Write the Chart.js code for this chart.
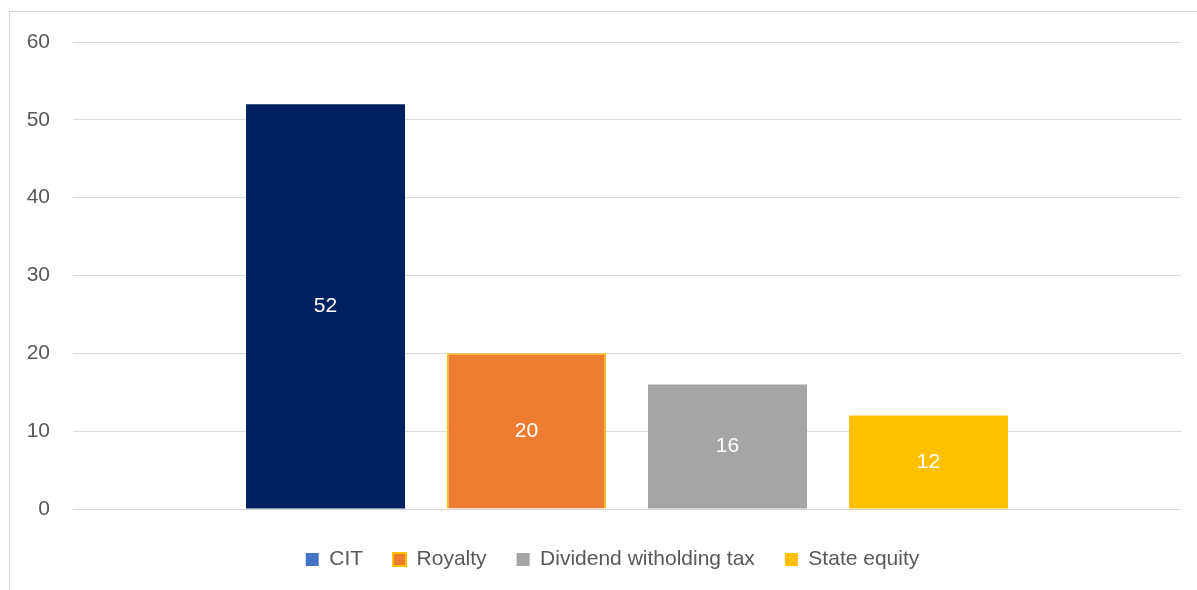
<!DOCTYPE html>
<html>
<head>
<meta charset="utf-8">
<script src="https://cdn.jsdelivr.net/npm/chart.js@4/dist/chart.umd.min.js"></script>
<style>
  html, body { margin: 0; padding: 0; background: #fff; overflow: hidden; }
  #wrap { position: relative; width: 1197px; height: 590px; }
  #frame { position: absolute; left: 9px; top: 11px; width: 1300px; height: 700px;
           border-left: 1px solid #d9d9d9; border-top: 1px solid #d9d9d9; pointer-events: none; }
  canvas { position: absolute; left: 0; top: 0; }
</style>
</head>
<body>
<div id="wrap">
  <canvas id="c" width="1197" height="590"></canvas>
  <div id="frame"></div>
</div>
<script>
const categories = [''];
const seriesNames = ['CIT', 'Royalty', 'Dividend witholding tax', 'State equity'];
const seriesValues = [[52], [20], [16], [12]];
const barColors = ['#002060', '#ED7D31', '#A5A5A5', '#FFC000'];
const borderColors = ['#002060', '#FFC000', '#A5A5A5', '#FFC000'];
const borderWidths = [0, 1.5, 0, 0];
const legendColors = ['#4472C4', '#ED7D31', '#A5A5A5', '#FFC000'];
const yTicks = [0, 10, 20, 30, 40, 50, 60];

const FONT = "'Liberation Sans', Arial, sans-serif";
const TEXT = '#595959';

const datasets = seriesNames.map((name, i) => ({
  label: name,
  data: seriesValues[i],
  backgroundColor: barColors[i],
  borderColor: borderColors[i],
  borderWidth: borderWidths[i],
  categoryPercentage: 0.7256,
  barPercentage: 0.791
}));

const valueLabels = {
  id: 'valueLabels',
  beforeDraw(chart) {
    // shift the legend box to centre it like the reference
    if (chart.legend) { chart.legend.left = 44; }
  },
  afterDatasetsDraw(chart) {
    const ctx = chart.ctx;
    ctx.save();
    ctx.fillStyle = '#ffffff';
    ctx.font = '21px ' + FONT;
    ctx.textAlign = 'center';
    ctx.textBaseline = 'middle';
    chart.data.datasets.forEach((ds, di) => {
      const meta = chart.getDatasetMeta(di);
      meta.data.forEach((bar, j) => {
        const cy = (bar.y + bar.base) / 2;
        ctx.fillText(String(ds.data[j]), bar.x, cy);
      });
    });
    ctx.restore();
  }
};

new Chart(document.getElementById('c'), {
  type: 'bar',
  data: { labels: categories, datasets },
  options: {
    responsive: false,
    animation: false,
    layout: { padding: { left: 0, right: 16, top: 42, bottom: 10 } },
    scales: {
      x: {
        display: true,
        grid: { display: false },
        border: { display: false },
        ticks: { display: false },
        afterFit: s => { s.height = 10; }
      },
      y: {
        min: 0,
        max: 60,
        afterBuildTicks: s => { s.ticks = yTicks.map(v => ({ value: v })); },
        afterFit: s => { s.width = 73; },
        grid: { color: '#d9d9d9', lineWidth: 1, drawTicks: false },
        border: { display: false },
        ticks: { color: TEXT, font: { family: FONT, size: 21 }, padding: 23 }
      }
    },
    plugins: {
      tooltip: { enabled: false },
      legend: {
        position: 'bottom',
        labels: {
          color: TEXT,
          font: { family: FONT, size: 21 },
          boxWidth: 13,
          boxHeight: 13,
          padding: 30,
          generateLabels(chart) {
            const items = Chart.defaults.plugins.legend.labels.generateLabels(chart);
            items.forEach((it, i) => {
              it.fillStyle = legendColors[i];
              it.strokeStyle = borderColors[i];
              it.lineWidth = borderWidths[i] ? 2 : 0;
            });
            return items;
          }
        }
      }
    }
  },
  plugins: [valueLabels]
});
</script>
</body>
</html>
